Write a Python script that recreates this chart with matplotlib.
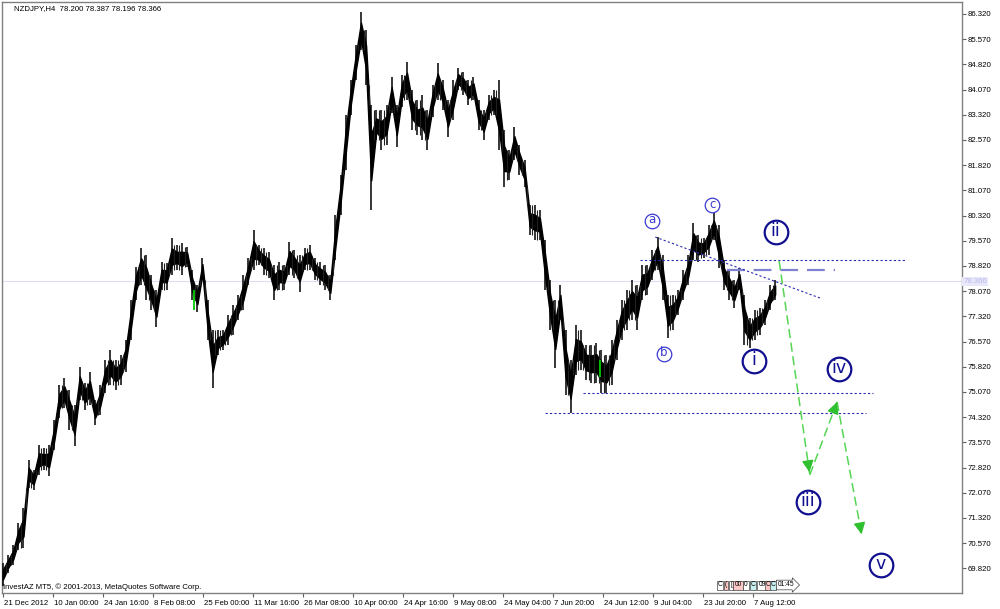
import numpy as np
import matplotlib
matplotlib.use("Agg")
import matplotlib.pyplot as plt
import matplotlib.transforms as mtransforms

# ---------------- data (sampled every 9 H4 bars) ----------------
bar_step = 9
highs = [69.98, 70.22, 70.52, 71.17, 71.62, 73.05, 72.75, 73.49, 73.40, 73.49,
         74.24, 75.28, 75.49, 75.13, 74.68, 75.81, 75.34, 75.67, 74.83, 75.28,
         76.02, 76.32, 76.02, 76.17, 76.62, 77.81, 78.79, 79.36, 79.15, 78.55,
         78.11, 78.94, 78.91, 79.65, 79.45, 79.51, 79.39, 78.70, 78.25, 79.06,
         77.81, 76.91, 76.91, 76.91, 77.36, 77.66, 77.96, 78.55, 79.06, 79.89,
         79.45, 79.36, 79.24, 78.85, 78.94, 78.85, 79.54, 79.30, 79.15, 79.36,
         79.45, 79.06, 78.94, 78.85, 78.55, 80.34, 81.53, 83.31, 84.36, 85.40,
         86.38, 85.84, 83.61, 83.46, 83.46, 83.61, 84.45, 83.61, 84.51, 84.89,
         84.06, 83.76, 83.91, 83.46, 84.21, 84.86, 84.36, 83.76, 84.36, 84.71,
         84.59, 84.36, 84.45, 83.76, 83.46, 83.91, 84.06, 84.36, 82.87, 82.27,
         82.96, 82.42, 81.97, 80.64, 80.64, 80.49, 79.59, 78.40, 77.81, 78.25,
         76.91, 76.02, 77.06, 76.91, 76.47, 76.47, 76.53, 76.32, 76.17, 76.62,
         77.21, 77.81, 78.11, 78.40, 78.25, 78.85, 78.85, 79.30, 79.68, 79.15,
         77.96, 77.96, 78.11, 78.70, 79.15, 80.10, 79.74, 79.65, 80.04, 80.40,
         80.04, 79.00, 78.70, 78.40, 78.76, 77.96, 77.27, 77.51, 77.57, 77.81,
         78.25, 78.40]
lows = [69.30, 69.68, 69.92, 70.37, 70.43, 72.21, 72.15, 72.60, 72.75, 72.57,
        73.34, 74.30, 74.59, 73.94, 73.46, 74.83, 74.53, 74.68, 74.09, 74.39,
        75.04, 75.28, 75.13, 75.28, 75.67, 76.62, 77.81, 78.25, 77.81, 77.51,
        77.00, 78.11, 78.11, 78.55, 78.70, 78.55, 78.79, 77.81, 77.45, 78.40,
        76.62, 75.19, 76.17, 76.32, 76.47, 76.77, 77.21, 77.51, 78.25, 78.70,
        78.85, 78.55, 78.46, 77.81, 78.11, 78.11, 78.55, 78.46, 78.05, 78.70,
        78.70, 78.40, 78.25, 78.11, 77.81, 79.00, 80.34, 81.68, 83.31, 84.36,
        85.25, 84.21, 80.49, 82.57, 82.27, 82.42, 83.37, 82.36, 83.55, 83.76,
        82.87, 82.72, 82.57, 82.27, 83.26, 83.76, 83.46, 82.66, 83.17, 84.06,
        83.91, 83.61, 83.76, 82.87, 82.57, 83.17, 83.31, 82.27, 81.17, 81.38,
        81.97, 81.53, 81.17, 79.74, 79.59, 79.59, 78.11, 76.91, 75.78, 77.21,
        74.98, 74.43, 75.57, 75.72, 75.43, 75.34, 75.34, 75.04, 75.04, 75.28,
        76.02, 76.62, 76.91, 77.21, 76.91, 77.81, 77.96, 78.40, 78.70, 77.81,
        76.68, 76.91, 77.36, 77.81, 78.25, 79.00, 78.94, 79.06, 79.15, 79.59,
        78.76, 78.11, 77.81, 77.57, 78.11, 76.47, 76.38, 76.62, 76.77, 77.06,
        77.51, 77.81]

# green (bullish highlighted) bars: bar index, high, low
green_bar_idx = [336, 1051]
green_bar_high = [78.11, 76.02]
green_bar_low = [77.51, 75.52]

time_labels = ["21 Dec 2012", "10 Jan 00:00", "24 Jan 16:00", "8 Feb 08:00",
               "25 Feb 00:00", "11 Mar 16:00", "26 Mar 08:00", "10 Apr 00:00",
               "24 Apr 16:00", "9 May 08:00", "24 May 04:00", "7 Jun 20:00",
               "24 Jun 12:00", "9 Jul 04:00", "23 Jul 20:00", "7 Aug 12:00"]
bars_per_label = 88
price_ticks = [69.82 + 0.75 * i for i in range(23)]
last_price = 78.366

# Wave annotation: horizontal levels (price, bar_from, bar_to)
dotted_levels = [(79.00, 1121, 1587), (75.04, 1021, 1531), (74.44, 954, 1519)]
dash_level = (78.70, 1274, 1464)
trend_bars = [1148, 1438]
trend_prices = [79.68, 77.865]
# projected path
proj_bars = [1366, 1420, 1468, 1512]
proj_prices = [78.97, 72.60, 74.77, 70.75]
# wave labels
minor_labels = ["a", "b", "c"]
minor_bars = [1142, 1163, 1248]
minor_prices = [80.16, 76.20, 80.63]
major_labels = ["i", "ii", "iii", "iv", "v"]
major_bars = [1322, 1360, 1417, 1471, 1545]
major_prices = [75.99, 79.83, 71.79, 75.75, 69.92]

# ---------------- figure ----------------
FONT = "Liberation Sans"
fig = plt.figure(figsize=(10, 6.09), dpi=100)
fig.patch.set_facecolor("white")
ax = fig.add_axes([0.002, 16 / 609, 0.960, 591 / 609])
ax.set_facecolor("white")

px_per_bar = 50 / 88
ax.set_xlim(-1 / px_per_bar, 960 / px_per_bar - 1 / px_per_bar)
ax.set_ylim(69.085, 86.677)

x = np.arange(len(highs)) * bar_step
hi = np.array(highs)
lo = np.array(lows)
mid = (hi + lo) / 2
rng = hi - lo
ax.axhline(last_price, color="#dcdcf4", lw=0.8, zorder=1)
# dense body of the bars and their wicks
ax.fill_between(x, mid - 0.22 * rng, mid + 0.22 * rng, color="black", lw=1.0, zorder=3)
ax.vlines(x, lo, hi, color="black", lw=1.1, zorder=3)
# overlap of consecutive samples drawn between them
ax.vlines(x[:-1] + bar_step / 2, np.maximum(lo[:-1], lo[1:]), np.minimum(hi[:-1], hi[1:]),
          color="#202020", lw=0.8, zorder=3)
ax.vlines(green_bar_idx, green_bar_low, green_bar_high, color="#00cc00", lw=1.3, zorder=4)

blue = "#2b2bb0"
for p, b0, b1 in dotted_levels:
    ax.plot([b0, b1], [p, p], color=blue, lw=0.8, ls=(0, (2, 2)), zorder=5)
ax.plot([dash_level[1], dash_level[2]], [dash_level[0]] * 2, color="#8080d0",
        lw=1.6, ls=(0, (8, 4)), zorder=5)
ax.plot(trend_bars, trend_prices, color=blue, lw=0.8, ls=(0, (2, 2)), zorder=5)

green = "#55d655"
for i in range(len(proj_bars) - 1):
    x0, y0 = proj_bars[i], proj_prices[i]
    x1, y1 = proj_bars[i + 1], proj_prices[i + 1]
    ax.plot([x0, x1], [y0, y1], color=green, lw=1.1, ls=(0, (6, 3)), zorder=6)
    ax.annotate("", xy=(x1, y1), xytext=(x1 - 0.06 * (x1 - x0), y1 - 0.06 * (y1 - y0)),
                arrowprops=dict(arrowstyle="-|>,head_length=0.7,head_width=0.35",
                                color="#2ec02e", lw=1.0), zorder=7)

for lab, b, p in zip(minor_labels, minor_bars, minor_prices):
    ax.plot(b, p, marker="o", ms=10.5, mfc="white", mec="#3a3ad0", mew=0.9, zorder=8)
    ax.text(b, p + 0.03, lab, ha="center", va="center", fontsize=8.5, color="#3a3ad0",
            family="DejaVu Sans", zorder=9)

navy = "#101090"
for lab, b, p in zip(major_labels, major_bars, major_prices):
    ax.plot(b, p, marker="o", ms=17, mfc="white", mec=navy, mew=1.6, zorder=8)
    ax.text(b, p + 0.02, lab, ha="center", va="center", fontsize=12.5, color=navy,
            family="DejaVu Sans", zorder=9)

# axes styling
for s in ax.spines.values():
    s.set_color("#808080")
    s.set_linewidth(1.0)
ax.yaxis.tick_right()
ax.set_yticks(price_ticks)
ax.set_yticklabels([f"{v:.3f}" for v in price_ticks], fontsize=5.6, family=FONT)
ax.tick_params(axis="y", direction="out", length=3, width=0.8, color="#606060", pad=1)
tick_pos = [i * bars_per_label for i in range(len(time_labels))]
ax.set_xticks(tick_pos)
ax.set_xticklabels(time_labels, fontsize=5.6, family=FONT, ha="left")
ax.tick_params(axis="x", direction="out", length=3, width=0.8, color="#606060", pad=2)
for lbl in ax.get_xticklabels():
    lbl.set_transform(lbl.get_transform() + mtransforms.ScaledTranslation(1 / 100, 0, fig.dpi_scale_trans))

ax.text(12 / 960, 1 - 7 / 591, "NZDJPY,H4  78.200 78.387 78.196 78.366", transform=ax.transAxes,
        fontsize=5.6, family=FONT, va="center", ha="left", color="black")
ax.text(1 / 960, 6 / 591, "InvestAZ MT5, \u00a9 2001-2013, MetaQuotes Software Corp.",
        transform=ax.transAxes, fontsize=5.6, family=FONT, va="center", ha="left", color="black")

trans = mtransforms.blended_transform_factory(ax.transAxes, ax.transData)
ax.text(1.0015, last_price, "78.366", transform=trans, fontsize=5.6, family=FONT,
        ha="left", va="center", color="#b8b8e8",
        bbox=dict(boxstyle="square,pad=0.15", fc="#e8e8fa", ec="none"), clip_on=False)

# small trade markers at bottom right
marker_labels = ["C", "(", "[", "00", "0", "C", "09", "C", "C"]
marker_colors = ["white", "#ffc8c8", "white", "#ffc8c8", "white", "#c8f0f0", "white", "#ffc8c8", "#c8f0f0"]
marker_px = [720, 726, 731, 738, 746, 753, 762, 768, 773]
for lab, col, pxx in zip(marker_labels, marker_colors, marker_px):
    ax.text((pxx - 2) / 960, 8 / 591, lab, transform=ax.transAxes, fontsize=4.8, family=FONT,
            ha="center", va="center", bbox=dict(boxstyle="square,pad=0.15", fc=col, ec="#404040", lw=0.5))
ax.text((786 - 2) / 960, 8 / 591, "01:45", transform=ax.transAxes, fontsize=4.8, family=FONT,
        ha="center", va="center", bbox=dict(boxstyle="rarrow,pad=0.2", fc="white", ec="#404040", lw=0.5))

fig.savefig("out.png", dpi=100, facecolor="white")
